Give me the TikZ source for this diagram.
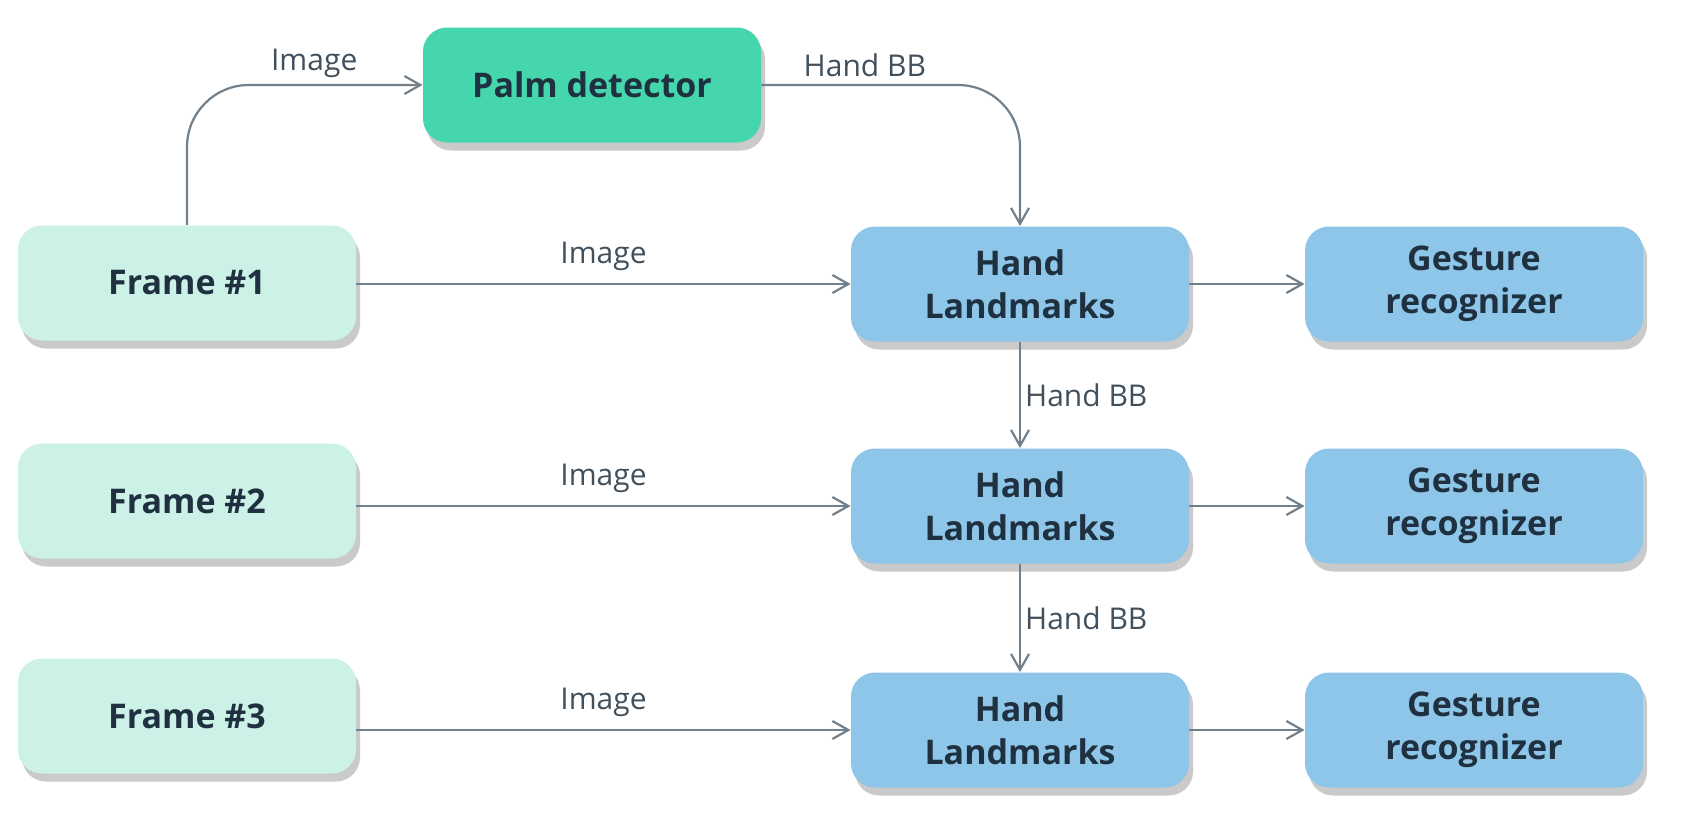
\documentclass[tikz,border=0pt]{standalone}
\usepackage{fontspec}
\setmainfont{Open Sans}
\usepackage{tikz}
\usetikzlibrary{arrows.meta}
\usetikzlibrary{shadows}
\definecolor{palmgreen}{HTML}{45D6AE}
\definecolor{framemint}{HTML}{CCF2E8}
\definecolor{handblue}{HTML}{8DC6E8}
\definecolor{inkdark}{HTML}{1F3140}
\definecolor{wire}{HTML}{72808C}
\tikzstyle{box}=[rectangle, rounded corners=12pt, minimum width=169pt, minimum height=57.5pt, align=center, text=inkdark, font=\fontsize{17}{21.5}\selectfont\bfseries, drop shadow={shadow xshift=2pt, shadow yshift=-4pt, fill=black!60, opacity=.35}]
\tikzstyle{palmbox}=[box, fill=palmgreen]
\tikzstyle{framebox}=[box, fill=framemint]
\tikzstyle{handbox}=[box, fill=handblue]
\tikzstyle{flow}=[draw=wire, line width=1.1pt, -{Straight Barb[length=8pt, width=9pt]}]
\tikzstyle{lbl}=[text=inkdark!85, font=\fontsize{15}{18}\selectfont]

\begin{document}
\begin{tikzpicture}[x=.5pt, y=-.5pt]
    \useasboundingbox (0,0) rectangle (1685,835);
    \node[palmbox] (palm) at (592,85) {Palm detector};
    \foreach \i/\fy/\hy in {1/283/284, 2/501/506, 3/716/730}{
      \node[framebox] (f\i) at (187,\fy) {Frame \#\i};
      \node[handbox] (l\i) at (1020,\hy) {Hand\\Landmarks};
      \node[handbox] (g\i) at (1474,\hy) {Gesture\\recognizer};
      \draw[flow] (f\i.east |- l\i.west) -- node[lbl, above=3pt] {Image} (l\i.west);
      \draw[flow] (l\i) -- (g\i);
    }
    \foreach \i/\j in {1/2, 2/3}{
      \draw[flow] (l\i) -- node[lbl, right, inner sep=2pt] {Hand BB} (l\j);
    }

    \draw[flow, rounded corners=31pt] (f1.north) |- node[lbl, above, pos=.77] {Image} (palm.west);
    \draw[flow, rounded corners=31pt] (palm.east) -| node[lbl, above, pos=.2] {Hand BB} (l1.north);
  \end{tikzpicture}
\end{document}
